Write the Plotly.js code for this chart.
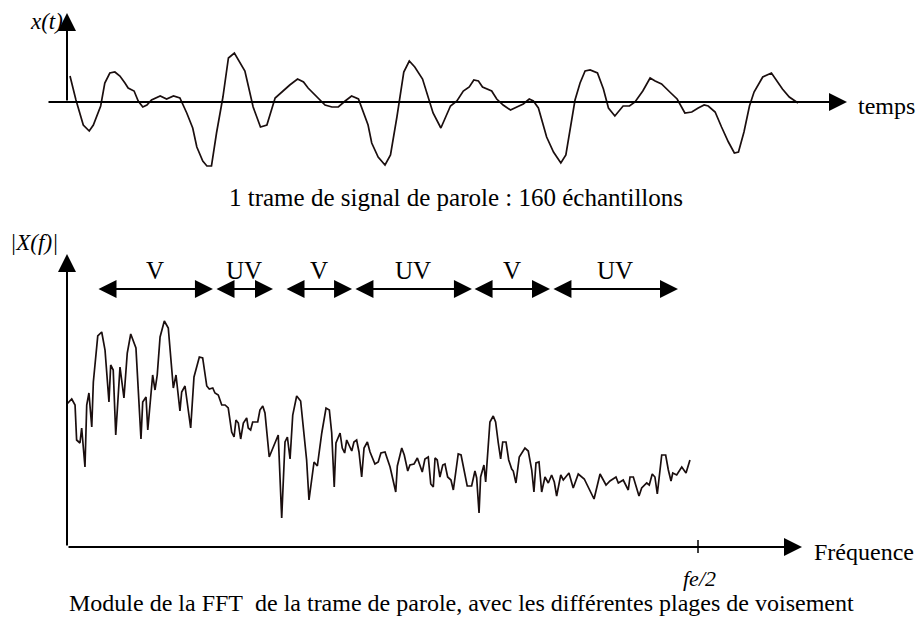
<!DOCTYPE html>
<html><head><meta charset="utf-8">
<script src="https://cdn.plot.ly/plotly-3.0.1.min.js"></script>
<style>html,body{margin:0;padding:0;background:#fff}</style>
</head><body><div id="chart" style="width:920px;height:617px"></div>
<script>
// ---------------- data ----------------
// speech frame: sample index (0..159) and amplitude (arbitrary units)
const timeSample = [0,1.3,2.9,4.2,5.1,6.7,7.6,8.7,9.8,10.9,
12.0,12.7,14.0,14.9,15.9,16.8,17.8,19.7,21.1,22.6,
24.0,25.5,26.8,27.7,29.0,29.9,30.9,32.0,33.4,34.6,
35.9,37.0,38.2,38.9,40.0,41.6,43.0,44.8,46.2,48.0,
49.7,51.0,52.0,53.9,55.7,57.2,58.6,60.1,61.5,63.0,
64.1,65.1,65.9,67.3,68.8,70.0,71.4,72.9,74.1,75.3,
77.0,78.3,79.3,81.0,82.1,83.1,84.5,85.9,87.2,88.2,
89.2,90.1,92.1,93.2,94.6,96.2,97.6,99.0,100.3,101.2,
102.3,104.1,105.6,107.2,108.3,109.4,110.3,111.4,112.5,113.6,
115.2,116.5,117.6,119.0,120.8,122.2,123.4,125.1,126.7,127.8,
129.2,131.0,132.6,134.3,135.8,137.2,138.5,139.4,140.9,142.3,
143.8,145.1,146.0,147.2,148.4,149.4,151.3,153.2,154.2,155.6,
157.1,159.0];
const signalAmp = [26,2,-23,-29,-23,-4,19,29,30,26,
19,14,11,1,-5,-3,2,6,3,6,
4,-11,-26,-45,-59,-64,-64,-31,5,44,
49,41,31,17,-5,-25,-23,4,10,17,
23,20,14,5,-3,-5,-5,1,6,3,
-10,-23,-41,-55,-63,-53,-15,30,41,35,
23,5,-11,-26,-15,-4,1,11,15,22,
21,15,11,3,-3,-8,-5,-2,3,1,
-6,-35,-50,-61,-53,-25,2,19,31,32,
29,13,-6,-14,-4,-4,0,11,24,21,
18,10,3,-11,-10,-6,-3,-4,-10,-25,
-40,-51,-50,-30,-4,10,25,29,22,13,
5,-1];

// FFT magnitude: frequency (Hz, fe/2 = 4000) and |X(f)| (arbitrary units)
const freqHz = [0,30,51,61,82,93,114,125,139,157,
167,195,220,241,266,277,293,309,336,361,
382,404,437,469,480,501,512,543,558,572,
590,617,642,674,691,716,727,748,784,805,
839,860,886,902,924,938,959,981,1002,1022,
1044,1059,1071,1086,1101,1118,1139,1149,1164,1177,
1209,1223,1241,1255,1282,1339,1361,1382,1397,1414,
1431,1456,1481,1498,1519,1534,1566,1587,1615,1642,
1663,1678,1694,1705,1731,1745,1760,1773,1805,1819,
1836,1851,1868,1883,1904,1921,1952,1973,1990,2016,
2048,2084,2094,2122,2138,2160,2174,2200,2221,2252,
2269,2290,2306,2322,2333,2347,2364,2382,2396,2413,
2434,2449,2480,2498,2537,2565,2586,2597,2612,2622,
2643,2654,2681,2702,2717,2734,2749,2762,2783,2800,
2819,2829,2846,2867,2903,2924,2946,2960,2973,2992,
3009,3030,3051,3072,3089,3104,3130,3146,3182,3209,
3241,3279,3305,3341,3379,3417,3442,3480,3495,3526,
3558,3569,3590,3611,3626,3643,3675,3691,3710,3727,
3742,3770,3795,3812,3829,3840,3865,3897,3924,3949];
const fftMag = [143,148,142,107,104,119,80,142,154,120,
165,211,215,197,145,182,177,112,180,149,
194,213,199,108,145,150,117,172,157,172,
210,226,219,159,172,136,155,161,119,170,
190,189,161,158,159,154,152,142,142,139,
115,110,127,124,108,124,129,119,117,125,
125,137,141,134,90,112,29,105,110,88,
132,151,146,117,87,47,85,81,114,139,
137,114,60,104,114,99,94,107,96,105,
107,95,70,99,105,95,83,85,94,95,
80,55,81,99,92,76,82,83,89,75,
88,90,63,60,89,87,70,82,83,70,
67,57,93,92,61,61,76,69,34,70,
82,65,125,131,125,104,88,105,105,87,
78,76,64,90,99,96,77,55,84,85,
55,70,64,72,65,51,72,67,74,59,
73,68,60,48,73,62,66,70,64,67,
57,70,70,58,51,59,64,62,73,70,
53,92,92,77,66,74,72,80,74,87];

// voicing bands
const bandStartHz = [190, 938, 1382, 1819, 2574, 3074];
const bandEndHz   = [925, 1306, 1807, 2567, 3062, 3873];
const bandLabel   = ['V', 'UV', 'V', 'UV', 'V', 'UV'];
const feHalfHz = 4000;

// ---------------- layout ----------------
const W = 920, H = 617;
const px = x => x / W;          // pixel -> paper
const py = y => 1 - y / H;
const serif = 'Liberation Serif, Times New Roman, serif';
const ink = '#000000';

const pxPerSample = 728 / 159;  // time-axis scale
const hzPerPx = 4000 / 631;     // frequency-axis scale
const headSize = 1.8;

const axisArrow = (x1, y1, x0, y0) => ({
  xref: 'paper', yref: 'paper', x: px(x1), y: py(y1),
  ax: x0 - x1, ay: y0 - y1, axref: 'pixel', ayref: 'pixel',
  showarrow: true, arrowhead: 2, arrowsize: headSize, arrowwidth: 2,
  arrowcolor: ink, text: ''
});
const label = (text, x, y, xanchor, size) => ({
  xref: 'paper', yref: 'paper', x: px(x), y: py(y), xanchor: xanchor || 'center',
  yanchor: 'middle', showarrow: false, text: text,
  font: {family: serif, size: size || 24, color: ink}
});

const bandY = 258, bandLabelY = 277;
const annotations = [
  axisArrow(847, 102, 47, 102),
  axisArrow(67, 13, 67, 102),
  axisArrow(802, 547, 67, 547),
  axisArrow(67, 254, 67, 547),
  label('<i>x(t)</i>', 46, 22, 'center', 23),
  label('temps', 856, 106, 'left'),
  label('1 trame de signal de parole : 160 échantillons', 456, 197, 'center', 25),
  label('<i>|X(f)|</i>', 34, 242, 'center', 23),
  label('Fréquence', 812, 552, 'left'),
  label('<i>fe/2</i>', 699, 578, 'center', 22),
  label('Module de la FFT&nbsp; de la trame de parole, avec les différentes plages de voisement', 461, 603)
];
bandLabel.forEach((t, i) => {
  annotations.push({
    xref: 'x2', yref: 'y2', x: bandEndHz[i], y: bandY,
    axref: 'x2', ayref: 'y2', ax: bandStartHz[i], ay: bandY,
    showarrow: true, arrowside: 'end+start', arrowhead: 2, startarrowhead: 2,
    arrowsize: headSize, startarrowsize: headSize, arrowwidth: 2, arrowcolor: ink, text: ''
  });
  annotations.push({
    xref: 'x2', yref: 'y2', x: (bandStartHz[i] + bandEndHz[i]) / 2, y: bandLabelY,
    showarrow: false, text: t, font: {family: serif, size: 25, color: ink}
  });
});

const traces = [
  {x: timeSample, y: signalAmp, xaxis: 'x', yaxis: 'y', mode: 'lines',
   line: {color: '#1a0e0e', width: 1.7}, hoverinfo: 'skip'},
  {x: freqHz, y: fftMag, xaxis: 'x2', yaxis: 'y2', mode: 'lines',
   line: {color: '#1a0e0e', width: 1.7}, hoverinfo: 'skip'}
];

const hidden = {visible: false, fixedrange: true};
const layout = {
  width: W, height: H, autosize: false,
  margin: {l: 0, r: 0, t: 0, b: 0, pad: 0},
  paper_bgcolor: '#ffffff', plot_bgcolor: 'rgba(0,0,0,0)',
  showlegend: false,
  xaxis: Object.assign({domain: [0, 1], range: [-70 / pxPerSample, 850 / pxPerSample], anchor: 'y'}, hidden),
  yaxis: Object.assign({domain: [437 / H, 1], range: [-78, 102], anchor: 'x'}, hidden),
  xaxis2: Object.assign({domain: [0, 1], range: [-67 * hzPerPx, 853 * hzPerPx], anchor: 'y2'}, hidden),
  yaxis2: Object.assign({domain: [0, 392 / H], range: [-70, 322], anchor: 'x2'}, hidden),
  shapes: [
    {type: 'line', xref: 'x2', yref: 'y2', x0: feHalfHz, x1: feHalfHz, y0: 7, y1: -6,
     line: {color: ink, width: 1.5}}
  ],
  annotations: annotations
};

Plotly.newPlot('chart', traces, layout, {displayModeBar: false, staticPlot: true});
</script>
</body></html>
